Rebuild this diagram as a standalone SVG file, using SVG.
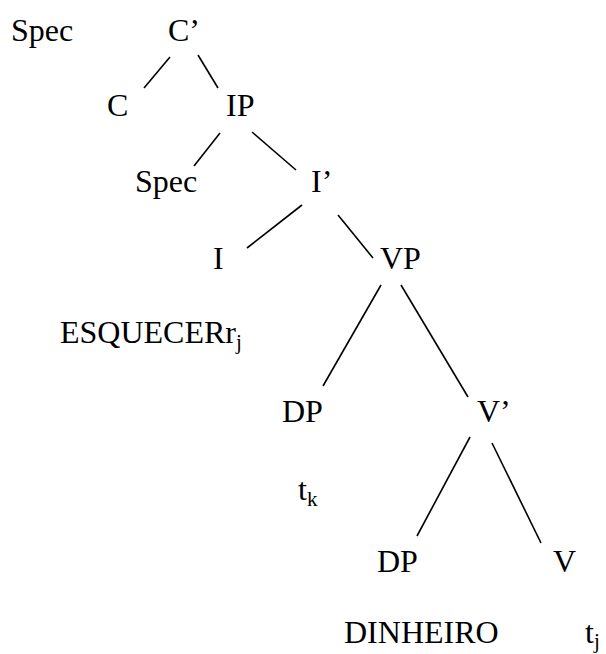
<svg xmlns="http://www.w3.org/2000/svg" width="606" height="654" viewBox="0 0 606 654">
<style>
text{font-family:"Liberation Serif","Times New Roman",serif;font-size:32px;fill:#000}
.sub{font-size:21px}
line{stroke:#000;stroke-width:1.6}
</style>
<rect width="606" height="654" fill="#fff"/>
<g id="connectors">
<line x1="170" y1="57" x2="144" y2="88"/>
<line x1="198" y1="55" x2="218" y2="88"/>
<line x1="220" y1="133" x2="194" y2="166"/>
<line x1="252" y1="132" x2="296" y2="170"/>
<line x1="302" y1="205" x2="247" y2="248"/>
<line x1="338" y1="215" x2="373" y2="258"/>
<line x1="381" y1="285" x2="323" y2="386"/>
<line x1="401" y1="285" x2="468" y2="397"/>
<line x1="470" y1="437" x2="417" y2="536"/>
<line x1="492" y1="443" x2="541" y2="543"/>
</g>
<g id="n-spec-c"><text x="11" y="41">Spec</text></g>
<g id="n-cbar"><text x="168" y="41">C’</text></g>
<g id="n-c"><text x="107" y="116">C</text></g>
<g id="n-ip"><text x="226" y="116">IP</text></g>
<g id="n-spec-i"><text x="135" y="192">Spec</text></g>
<g id="n-ibar"><text x="311" y="192">I’</text></g>
<g id="n-i"><text x="213" y="269">I</text></g>
<g id="n-vp"><text x="380" y="269">VP</text></g>
<g id="n-esq"><text x="60" y="343">ESQUECERr<tspan class="sub" dy="6">j</tspan></text></g>
<g id="n-dp1"><text x="282" y="422">DP</text></g>
<g id="n-vbar"><text x="477" y="422">V’</text></g>
<g id="n-tk"><text x="298" y="500">t<tspan class="sub" dy="6">k</tspan></text></g>
<g id="n-dp2"><text x="377" y="572">DP</text></g>
<g id="n-v"><text x="553" y="572">V</text></g>
<g id="n-din"><text x="344" y="643">DINHEIRO</text></g>
<g id="n-ti"><text x="585" y="643">t<tspan class="sub" dy="5">j</tspan></text></g>
</svg>
